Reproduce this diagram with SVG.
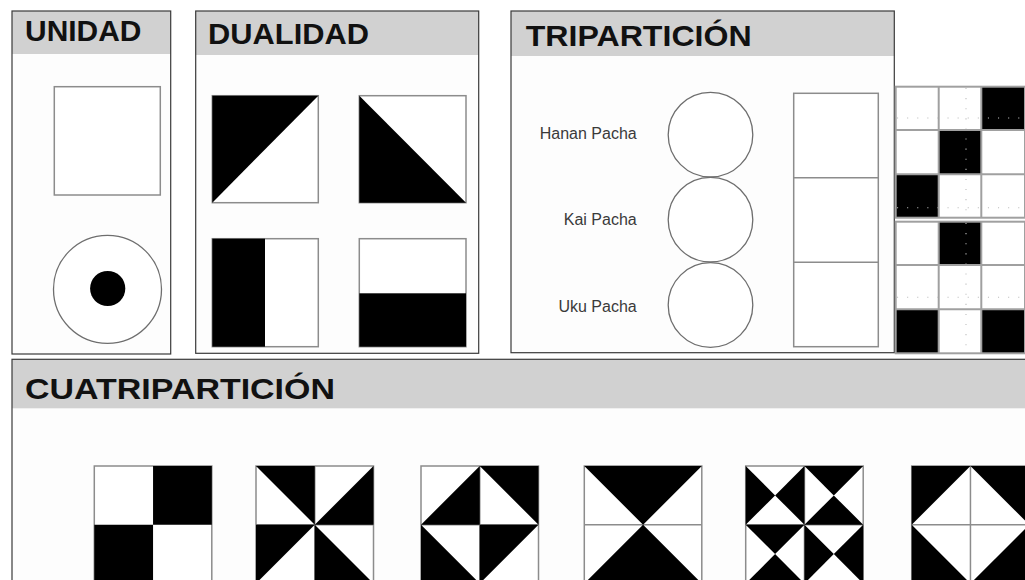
<svg xmlns="http://www.w3.org/2000/svg" width="1025" height="580" viewBox="0 0 1025 580">
<style>
.frame{fill:none;stroke:#3a3a3a;stroke-width:1.2}
.body{fill:#fdfdfd}
.hdr{fill:#d1d1d1}
.title{font-family:"Liberation Sans",Arial,Helvetica,sans-serif;font-weight:bold;font-size:30px;fill:#111}
.lbl{font-family:"Liberation Sans",Arial,Helvetica,sans-serif;font-size:16px;fill:#3a3a3a;text-anchor:end}
.sq{fill:#fff;stroke:#8c8c8c;stroke-width:1.5}
.ln{fill:none;stroke:#8c8c8c;stroke-width:1.5}
.ring{fill:#fff;stroke:#6e6e6e;stroke-width:1.3}
.blk{fill:#000}
.cell{fill:none;stroke:#a0a0a0;stroke-width:2}
.dot{fill:none;stroke:#bdbdbd;stroke-width:1.1;stroke-dasharray:1.1 9}
</style>
<rect x="0" y="0" width="1025" height="580" fill="#ffffff"/>

<g id="unidad">
<rect class="body" x="12" y="11" width="158.7" height="343"/>
<rect class="hdr" x="12" y="11" width="158.7" height="43"/>
<rect class="frame" x="12" y="11" width="158.7" height="343"/>
<text class="title" x="25" y="40.5" textLength="116.5" lengthAdjust="spacingAndGlyphs">UNIDAD</text>
<rect class="sq" x="54.3" y="86.7" width="106" height="108.3"/>
<circle class="ring" cx="107.5" cy="289.3" r="54"/>
<circle class="blk" cx="107.7" cy="288.5" r="17.6"/>
</g>

<g id="dualidad">
<rect class="body" x="195.7" y="11" width="283" height="342.3"/>
<rect class="hdr" x="195.7" y="11" width="283" height="44"/>
<rect class="frame" x="195.7" y="11" width="283" height="342.3"/>
<text class="title" x="208" y="43.5" font-size="31" textLength="161" lengthAdjust="spacingAndGlyphs">DUALIDAD</text>
<rect class="sq" x="212.3" y="95.7" width="106" height="107"/>
<polygon class="blk" points="212.3,95.7 318.3,95.7 212.3,202.7"/>
<rect class="sq" x="359.3" y="95.7" width="106.7" height="107"/>
<polygon class="blk" points="359.3,95.7 359.3,202.7 466,202.7"/>
<rect class="sq" x="212.3" y="238.7" width="106" height="108"/>
<rect class="blk" x="212.3" y="238.7" width="52.7" height="108"/>
<rect class="sq" x="359.3" y="238.7" width="106.7" height="108"/>
<rect class="blk" x="359.3" y="293.3" width="106.7" height="53.4"/>
</g>

<g id="triparticion">
<rect class="body" x="511" y="11" width="383.3" height="341.7"/>
<rect class="hdr" x="511" y="11" width="383.3" height="45"/>
<rect class="frame" x="511" y="11" width="383.3" height="341.7"/>
<text class="title" x="525.7" y="45.5" font-size="31" textLength="226" lengthAdjust="spacingAndGlyphs">TRIPARTICIÓN</text>
<text class="lbl" x="636.7" y="139">Hanan Pacha</text>
<text class="lbl" x="636.7" y="225.3">Kai Pacha</text>
<text class="lbl" x="636.7" y="311.7">Uku Pacha</text>
<circle class="ring" cx="710.5" cy="134.7" r="42.3"/>
<circle class="ring" cx="710.5" cy="219.7" r="42.3"/>
<circle class="ring" cx="710.5" cy="305" r="42.3"/>
<rect class="sq" x="793.7" y="93.3" width="84.6" height="253.4"/>
<line class="ln" x1="793.7" y1="177.7" x2="878.3" y2="177.7"/>
<line class="ln" x1="793.7" y1="262.3" x2="878.3" y2="262.3"/>
</g>

<g id="grid-top">
<rect x="895.7" y="86.7" width="129.3" height="131" fill="#fff"/>
<rect class="blk" x="981.3" y="86.7" width="43.7" height="43.3"/>
<rect class="blk" x="938.7" y="130" width="42.6" height="44.3"/>
<rect class="blk" x="895.7" y="174.3" width="43" height="43.4"/>
<line class="dot" x1="897" y1="118" x2="1024" y2="118"/>
<line class="dot" x1="897" y1="207.7" x2="1024" y2="207.7"/>
<line class="dot" x1="966" y1="88" x2="966" y2="216"/>
<rect class="cell" x="895.7" y="86.7" width="129.3" height="131"/>
<line class="cell" x1="938.7" y1="86.7" x2="938.7" y2="217.7"/>
<line class="cell" x1="981.3" y1="86.7" x2="981.3" y2="217.7"/>
<line class="cell" x1="895.7" y1="130" x2="1025" y2="130"/>
<line class="cell" x1="895.7" y1="174.3" x2="1025" y2="174.3"/>
</g>

<g id="grid-bottom">
<rect x="895.7" y="221.7" width="129.3" height="131.6" fill="#fff"/>
<rect class="blk" x="938.7" y="221.7" width="42.6" height="43.3"/>
<rect class="blk" x="895.7" y="309.3" width="43" height="44"/>
<rect class="blk" x="981.3" y="309.3" width="43.7" height="44"/>
<line class="dot" x1="897" y1="297.3" x2="1024" y2="297.3"/>
<line class="dot" x1="966" y1="223" x2="966" y2="352"/>
<rect class="cell" x="895.7" y="221.7" width="129.3" height="131.6"/>
<line class="cell" x1="938.7" y1="221.7" x2="938.7" y2="353.3"/>
<line class="cell" x1="981.3" y1="221.7" x2="981.3" y2="353.3"/>
<line class="cell" x1="895.7" y1="265" x2="1025" y2="265"/>
<line class="cell" x1="895.7" y1="309.3" x2="1025" y2="309.3"/>
</g>

<g id="cuatriparticion">
<rect class="body" x="12" y="359.3" width="1020" height="230"/>
<rect class="hdr" x="12" y="359.3" width="1020" height="49"/>
<rect class="frame" x="12" y="359.3" width="1020" height="230"/>
<text class="title" x="25" y="398.5" font-size="32" textLength="310" lengthAdjust="spacingAndGlyphs">CUATRIPARTICIÓN</text>

<g id="q1" transform="translate(94.3,466)">
<rect class="sq" x="0" y="0" width="117.5" height="117.5"/>
<rect class="blk" x="58.75" y="0" width="58.75" height="58.75"/>
<rect class="blk" x="0" y="58.75" width="58.75" height="58.75"/>
</g>

<g id="q2" transform="translate(256,466)">
<rect class="sq" x="0" y="0" width="117.5" height="117.5"/>
<line class="ln" x1="0" y1="58.75" x2="117.5" y2="58.75"/>
<line class="ln" x1="58.75" y1="0" x2="58.75" y2="117.5"/>
<polygon class="blk" points="0,0 58.75,0 58.75,58.75"/>
<polygon class="blk" points="58.75,58.75 117.5,0 117.5,58.75"/>
<polygon class="blk" points="0,58.75 58.75,58.75 0,117.5"/>
<polygon class="blk" points="58.75,58.75 117.5,117.5 58.75,117.5"/>
</g>

<g id="q3" transform="translate(421,466)">
<rect class="sq" x="0" y="0" width="117.5" height="117.5"/>
<line class="ln" x1="0" y1="58.75" x2="117.5" y2="58.75"/>
<line class="ln" x1="58.75" y1="0" x2="58.75" y2="117.5"/>
<polygon class="blk" points="58.75,0 58.75,58.75 0,58.75"/>
<polygon class="blk" points="58.75,0 117.5,0 117.5,58.75"/>
<polygon class="blk" points="58.75,58.75 117.5,58.75 58.75,117.5"/>
<polygon class="blk" points="0,58.75 58.75,117.5 0,117.5"/>
</g>

<g id="q4" transform="translate(584.3,466)">
<rect class="sq" x="0" y="0" width="117.5" height="117.5"/>
<line class="ln" x1="0" y1="58.75" x2="117.5" y2="58.75"/>
<line class="ln" x1="58.75" y1="0" x2="58.75" y2="117.5"/>
<polygon class="blk" points="0,0 117.5,0 58.75,58.75"/>
<polygon class="blk" points="0,117.5 117.5,117.5 58.75,58.75"/>
</g>

<g id="q5" transform="translate(745.7,466)">
<rect class="sq" x="0" y="0" width="117.5" height="117.5"/>
<line class="ln" x1="0" y1="58.75" x2="117.5" y2="58.75"/>
<line class="ln" x1="58.75" y1="0" x2="58.75" y2="117.5"/>
<polygon class="blk" points="0,0 0,58.75 29.4,29.4"/>
<polygon class="blk" points="58.75,0 58.75,58.75 29.4,29.4"/>
<polygon class="blk" points="58.75,0 117.5,0 88.1,29.4"/>
<polygon class="blk" points="58.75,58.75 117.5,58.75 88.1,29.4"/>
<polygon class="blk" points="0,58.75 58.75,58.75 29.4,88.1"/>
<polygon class="blk" points="0,117.5 58.75,117.5 29.4,88.1"/>
<polygon class="blk" points="58.75,58.75 58.75,117.5 88.1,88.1"/>
<polygon class="blk" points="117.5,58.75 117.5,117.5 88.1,88.1"/>
</g>

<g id="q6" transform="translate(911.7,466)">
<rect class="sq" x="0" y="0" width="117.5" height="117.5"/>
<line class="ln" x1="0" y1="58.75" x2="117.5" y2="58.75"/>
<line class="ln" x1="58.75" y1="0" x2="58.75" y2="117.5"/>
<polygon class="blk" points="0,0 58.75,0 0,58.75"/>
<polygon class="blk" points="58.75,0 117.5,0 117.5,58.75"/>
<polygon class="blk" points="117.5,58.75 117.5,117.5 58.75,117.5"/>
<polygon class="blk" points="0,58.75 58.75,117.5 0,117.5"/>
</g>
</g>
</svg>
